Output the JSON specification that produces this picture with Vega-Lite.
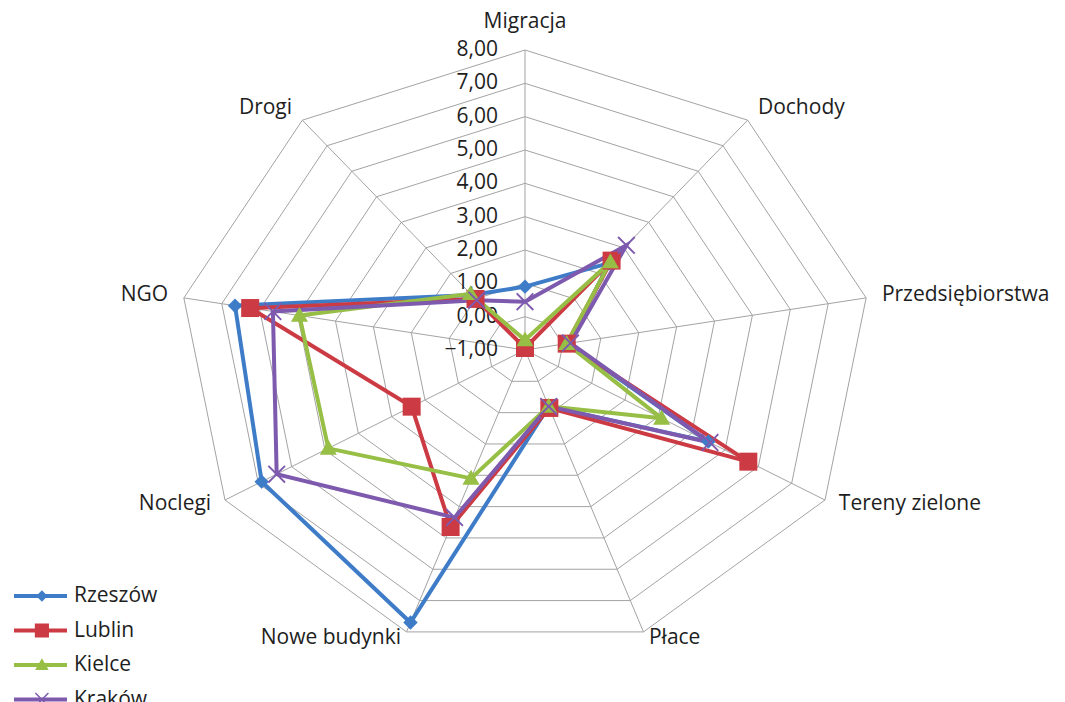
{
  "$schema": "https://vega.github.io/schema/vega-lite/v6.json",
  "width": 1065,
  "height": 702,
  "padding": 0,
  "autosize": {"type": "none"},
  "background": "white",
  "config": {"view": {"stroke": null}, "font": "Open Sans"},
  "datasets": {
    "cats": [
      {"cat": "Migracja", "k": 0},
      {"cat": "Dochody", "k": 1},
      {"cat": "Przedsiębiorstwa", "k": 2},
      {"cat": "Tereny zielone", "k": 3},
      {"cat": "Płace", "k": 4},
      {"cat": "Nowe budynki", "k": 5},
      {"cat": "Noclegi", "k": 6},
      {"cat": "NGO", "k": 7},
      {"cat": "Drogi", "k": 8}
    ],
    "rings": [
      {"level": -1, "k": [0, 1, 2, 3, 4, 5, 6, 7, 8]},
      {"level": 0, "k": [0, 1, 2, 3, 4, 5, 6, 7, 8]},
      {"level": 1, "k": [0, 1, 2, 3, 4, 5, 6, 7, 8]},
      {"level": 2, "k": [0, 1, 2, 3, 4, 5, 6, 7, 8]},
      {"level": 3, "k": [0, 1, 2, 3, 4, 5, 6, 7, 8]},
      {"level": 4, "k": [0, 1, 2, 3, 4, 5, 6, 7, 8]},
      {"level": 5, "k": [0, 1, 2, 3, 4, 5, 6, 7, 8]},
      {"level": 6, "k": [0, 1, 2, 3, 4, 5, 6, 7, 8]},
      {"level": 7, "k": [0, 1, 2, 3, 4, 5, 6, 7, 8]},
      {"level": 8, "k": [0, 1, 2, 3, 4, 5, 6, 7, 8]}
    ],
    "series": [
      {"city": "Rzeszów", "cat": "Migracja", "value": 0.9},
      {"city": "Rzeszów", "cat": "Dochody", "value": 2.4},
      {"city": "Rzeszów", "cat": "Przedsiębiorstwa", "value": 0.15},
      {"city": "Rzeszów", "cat": "Tereny zielone", "value": 4.5},
      {"city": "Rzeszów", "cat": "Płace", "value": 0.8},
      {"city": "Rzeszów", "cat": "Nowe budynki", "value": 7.7},
      {"city": "Rzeszów", "cat": "Noclegi", "value": 6.9},
      {"city": "Rzeszów", "cat": "NGO", "value": 6.65},
      {"city": "Rzeszów", "cat": "Drogi", "value": 1.15},
      {"city": "Lublin", "cat": "Migracja", "value": -0.94},
      {"city": "Lublin", "cat": "Dochody", "value": 2.5},
      {"city": "Lublin", "cat": "Przedsiębiorstwa", "value": 0.1},
      {"city": "Lublin", "cat": "Tereny zielone", "value": 5.7},
      {"city": "Lublin", "cat": "Płace", "value": 0.85},
      {"city": "Lublin", "cat": "Nowe budynki", "value": 4.65},
      {"city": "Lublin", "cat": "Noclegi", "value": 2.4},
      {"city": "Lublin", "cat": "NGO", "value": 6.25},
      {"city": "Lublin", "cat": "Drogi", "value": 1.0},
      {"city": "Kielce", "cat": "Migracja", "value": -0.7},
      {"city": "Kielce", "cat": "Dochody", "value": 2.45},
      {"city": "Kielce", "cat": "Przedsiębiorstwa", "value": 0.1},
      {"city": "Kielce", "cat": "Tereny zielone", "value": 3.1},
      {"city": "Kielce", "cat": "Płace", "value": 0.8},
      {"city": "Kielce", "cat": "Nowe budynki", "value": 3.1},
      {"city": "Kielce", "cat": "Noclegi", "value": 4.9},
      {"city": "Kielce", "cat": "NGO", "value": 4.95},
      {"city": "Kielce", "cat": "Drogi", "value": 1.2},
      {"city": "Kraków", "cat": "Migracja", "value": 0.45},
      {"city": "Kraków", "cat": "Dochody", "value": 3.1},
      {"city": "Kraków", "cat": "Przedsiębiorstwa", "value": 0.2},
      {"city": "Kraków", "cat": "Tereny zielone", "value": 4.55},
      {"city": "Kraków", "cat": "Płace", "value": 0.8},
      {"city": "Kraków", "cat": "Nowe budynki", "value": 4.35},
      {"city": "Kraków", "cat": "Noclegi", "value": 6.45},
      {"city": "Kraków", "cat": "NGO", "value": 5.65},
      {"city": "Kraków", "cat": "Drogi", "value": 0.95}
    ]
  },
  "layer": [
    {
      "data": {"name": "rings"},
      "transform": [
        {"filter": "datum.level >= 0"},
        {"flatten": ["k"]},
        {"calculate": "(datum.level + 1) * sin(datum.k * 2 * PI / 9)", "as": "x"},
        {"calculate": "(datum.level + 1) * cos(datum.k * 2 * PI / 9)", "as": "y"}
      ],
      "mark": {"type": "line", "interpolate": "linear-closed", "stroke": "#A3A3A3", "strokeWidth": 1},
      "encoding": {
        "x": {"field": "x", "type": "quantitative", "scale": {"domain": [-13.64, 14.03], "nice": false, "zero": false}, "axis": null},
        "y": {"field": "y", "type": "quantitative", "scale": {"domain": [-10.56, 10.5], "nice": false, "zero": false}, "axis": null},
        "detail": {"field": "level", "type": "nominal"},
        "order": {"field": "k", "type": "quantitative"}
      }
    },
    {
      "data": {"name": "cats"},
      "transform": [
        {"calculate": "9 * sin(datum.k * 2 * PI / 9)", "as": "sx"},
        {"calculate": "9 * cos(datum.k * 2 * PI / 9)", "as": "sy"},
        {"calculate": "0", "as": "zero"}
      ],
      "mark": {"type": "rule", "stroke": "#A3A3A3", "strokeWidth": 1},
      "encoding": {
        "x": {"field": "sx", "type": "quantitative"},
        "y": {"field": "sy", "type": "quantitative"},
        "x2": {"field": "zero"},
        "y2": {"field": "zero"}
      }
    },
    {
      "data": {"name": "rings"},
      "transform": [
        {"calculate": "datum.level + 1", "as": "r"},
        {"calculate": "0", "as": "zero"},
        {"calculate": "replace(format(datum.level, '.2f'), '.', ',')", "as": "lab"}
      ],
      "mark": {"type": "text", "align": "right", "baseline": "middle", "dx": -27, "fontSize": 21, "font": "Open Sans", "color": "#1E1E1E"},
      "encoding": {
        "x": {"field": "zero", "type": "quantitative"},
        "y": {"field": "r", "type": "quantitative"},
        "text": {"field": "lab", "type": "nominal"}
      }
    },
    {
      "data": {"name": "cats"},
      "transform": [
        {"calculate": "sin(datum.k * 2 * PI / 9)", "as": "s"},
        {"calculate": "cos(datum.k * 2 * PI / 9)", "as": "c"},
        {"calculate": "9 * datum.s + datum.s * 16 / 38.5", "as": "lx"},
        {"calculate": "9 * datum.c + (datum.c > 0 ? datum.c * 16 : datum.c * 7) / 33.33", "as": "ly"},
        {"filter": "abs(datum.s) < 0.1"}
      ],
      "mark": {"type": "text", "align": "center", "baseline": "middle", "dy": -12, "fontSize": 21, "font": "Open Sans", "color": "#1E1E1E"},
      "encoding": {
        "x": {"field": "lx", "type": "quantitative"},
        "y": {"field": "ly", "type": "quantitative"},
        "text": {"field": "cat", "type": "nominal"}
      }
    },
    {
      "data": {"name": "cats"},
      "transform": [
        {"calculate": "sin(datum.k * 2 * PI / 9)", "as": "s"},
        {"calculate": "cos(datum.k * 2 * PI / 9)", "as": "c"},
        {"calculate": "9 * datum.s + datum.s * 16 / 38.5", "as": "lx"},
        {"calculate": "9 * datum.c + (datum.c > 0 ? datum.c * 16 : datum.c * 7) / 33.33", "as": "ly"},
        {"filter": "datum.s >= 0.1"}
      ],
      "mark": {"type": "text", "align": "left", "baseline": "middle", "fontSize": 21, "font": "Open Sans", "color": "#1E1E1E"},
      "encoding": {
        "x": {"field": "lx", "type": "quantitative"},
        "y": {"field": "ly", "type": "quantitative"},
        "text": {"field": "cat", "type": "nominal"}
      }
    },
    {
      "data": {"name": "cats"},
      "transform": [
        {"calculate": "sin(datum.k * 2 * PI / 9)", "as": "s"},
        {"calculate": "cos(datum.k * 2 * PI / 9)", "as": "c"},
        {"calculate": "9 * datum.s + datum.s * 16 / 38.5", "as": "lx"},
        {"calculate": "9 * datum.c + (datum.c > 0 ? datum.c * 16 : datum.c * 7) / 33.33", "as": "ly"},
        {"filter": "datum.s <= -0.1"}
      ],
      "mark": {"type": "text", "align": "right", "baseline": "middle", "fontSize": 21, "font": "Open Sans", "color": "#1E1E1E"},
      "encoding": {
        "x": {"field": "lx", "type": "quantitative"},
        "y": {"field": "ly", "type": "quantitative"},
        "text": {"field": "cat", "type": "nominal"}
      }
    },
    {
      "data": {"name": "series"},
      "transform": [
        {"lookup": "cat", "from": {"data": {"name": "cats"}, "key": "cat", "fields": ["k"]}},
        {"calculate": "(datum.value + 1) * sin(datum.k * 2 * PI / 9)", "as": "x"},
        {"calculate": "(datum.value + 1) * cos(datum.k * 2 * PI / 9)", "as": "y"}
      ],
      "mark": {"type": "line", "interpolate": "linear-closed", "strokeWidth": 4},
      "encoding": {
        "x": {"field": "x", "type": "quantitative"},
        "y": {"field": "y", "type": "quantitative"},
        "order": {"field": "k", "type": "quantitative"},
        "stroke": {
          "field": "city",
          "type": "nominal",
          "sort": ["Rzeszów", "Lublin", "Kielce", "Kraków"],
          "scale": {"range": ["#3E7CC8", "#CC3B43", "#97BE45", "#7E5AAE"]},
          "legend": {
            "title": null,
            "orient": "none",
            "legendX": 12,
            "legendY": 586,
            "symbolType": "stroke",
            "symbolSize": 2809,
            "symbolStrokeWidth": 4,
            "labelFontSize": 21,
            "labelFont": "Open Sans",
            "labelColor": "#1E1E1E",
            "labelOffset": 5,
            "clipHeight": 20,
            "rowPadding": 13.5
          }
        }
      }
    },
    {
      "data": {"name": "series"},
      "transform": [
        {"lookup": "cat", "from": {"data": {"name": "cats"}, "key": "cat", "fields": ["k"]}},
        {"calculate": "(datum.value + 1) * sin(datum.k * 2 * PI / 9)", "as": "x"},
        {"calculate": "(datum.value + 1) * cos(datum.k * 2 * PI / 9)", "as": "y"}
      ],
      "mark": {"type": "point", "filled": true, "size": 324, "opacity": 1, "strokeWidth": 0},
      "encoding": {
        "x": {"field": "x", "type": "quantitative"},
        "y": {"field": "y", "type": "quantitative"},
        "shape": {
          "field": "city",
          "type": "nominal",
          "scale": {
            "domain": ["Rzeszów", "Lublin", "Kielce", "Kraków"],
            "range": [
              "M0,-0.8L0.8,0L0,0.8L-0.8,0Z",
              "M-1,-1L1,-1L1,1L-1,1Z",
              "M0,-0.95L0.95,0.7L-0.95,0.7Z",
              "M-1,-0.85L-0.85,-1L0,-0.15L0.85,-1L1,-0.85L0.15,0L1,0.85L0.85,1L0,0.15L-0.85,1L-1,0.85L-0.15,0Z"
            ]
          },
          "legend": {
            "title": null,
            "orient": "none",
            "legendX": 31.4,
            "legendY": 586,
            "symbolSize": 200,
            "symbolStrokeWidth": 0,
            "labelFontSize": 21,
            "labelFont": "Open Sans",
            "labelOpacity": 0,
            "labelOffset": 5,
            "clipHeight": 20,
            "rowPadding": 13.5
          }
        },
        "fill": {
          "field": "city",
          "type": "nominal",
          "scale": {
            "domain": ["Rzeszów", "Lublin", "Kielce", "Kraków"],
            "range": ["#3E7CC8", "#CC3B43", "#97BE45", "#7E5AAE"]
          },
          "legend": {
            "title": null,
            "orient": "none",
            "legendX": 31.4,
            "legendY": 586,
            "symbolSize": 200,
            "symbolStrokeWidth": 0,
            "labelFontSize": 21,
            "labelFont": "Open Sans",
            "labelOpacity": 0,
            "labelOffset": 5,
            "clipHeight": 20,
            "rowPadding": 13.5
          }
        }
      }
    }
  ]
}
